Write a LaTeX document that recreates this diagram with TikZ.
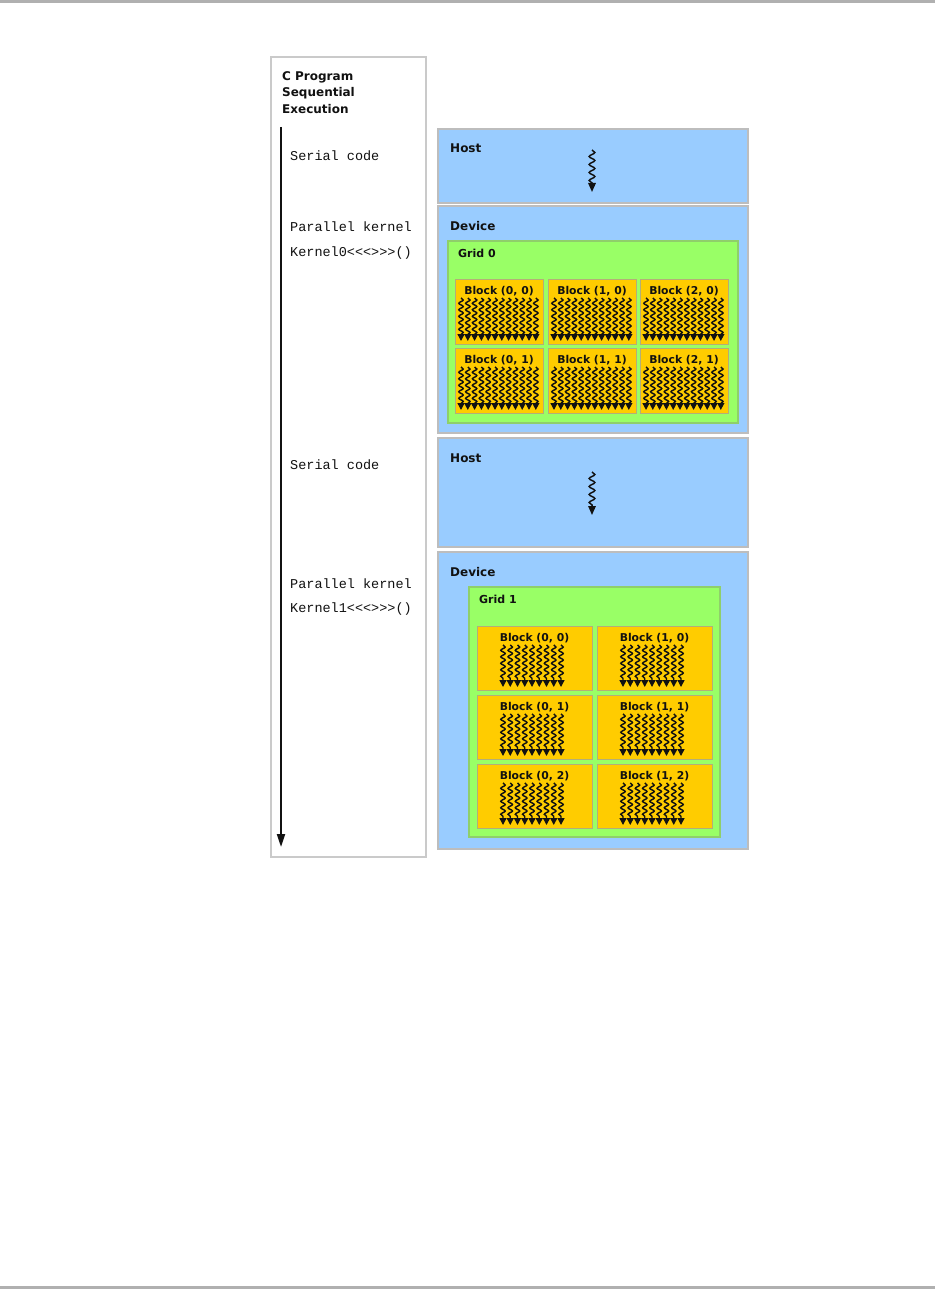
\documentclass[tikz,border=0pt]{standalone}
\usepackage{fontspec}
\setsansfont{DejaVu Sans}
\setmonofont{Liberation Mono}
\usetikzlibrary{decorations.pathmorphing,arrows.meta}
\definecolor{hostblue}{HTML}{99CCFF}
\definecolor{gridgreen}{HTML}{99FF66}
\definecolor{blockorange}{HTML}{FFCC00}
\definecolor{edgegray}{HTML}{BDBDBD}
\definecolor{bargray}{HTML}{B0B0B0}
\definecolor{blockedge}{HTML}{B4AE78}
\definecolor{gridedge}{HTML}{8FCF6A}
\definecolor{inkdark}{HTML}{111111}
\begin{document}
\begin{tikzpicture}[x=1pt,y=-1pt,
  panel/.style={draw=edgegray, line width=1.2pt, anchor=north west, inner sep=0pt, outer sep=0pt},
  hostbox/.style={panel, fill=hostblue, minimum width=310pt},
  gridbox/.style={panel, draw=gridedge, fill=gridgreen},
  blk/.style={panel, draw=blockedge, line width=1pt, fill=blockorange},
  hd/.style={font=\fontsize{12}{14}\sffamily\bfseries, text=inkdark, anchor=base west, inner sep=0pt},
  blabel/.style={font=\fontsize{10.8}{13}\sffamily\bfseries, text=inkdark, anchor=base, inner sep=0pt},
  code/.style={font=\fontsize{13.5}{16}\ttfamily, text=inkdark, anchor=base west, inner sep=0pt},
  thread/.style={draw=inkdark, line width=1.45pt, decorate,
     decoration={snake, amplitude=2.2pt, segment length=6.5pt, post length=6pt},
     -{Triangle[width=7pt,length=7pt]}},
  hostthread/.style={draw=inkdark, line width=1.5pt, decorate,
     decoration={snake, amplitude=2.8pt, segment length=8pt, post length=7pt},
     -{Triangle[width=7.5pt,length=9pt]}}
]
\useasboundingbox (0,0) rectangle (935,1289);
% page rules
\fill[bargray] (0,0) rectangle (935,3);
\fill[bargray] (0,1286) rectangle (935,1289);

% left column
\node[panel, draw=edgegray!80, fill=white, minimum width=155pt, minimum height=800pt] (prog) at (271,57) {};
\node[hd] (t1) at (282,81) {C Program};
\node[hd] (t2) at (282,97) {Sequential};
\node[hd] (t3) at (282,114) {Execution};
\coordinate (tstart) at (281,127);
\coordinate (tend) at (281,847);
\draw[draw=inkdark, line width=2pt, -{Triangle[width=8pt,length=13pt]}] (tstart) -- (tend);

\node[code] (c1) at (290,161) {Serial code};
\node[code] (c2) at (290,232) {Parallel kernel};
\node[code] (c3) at (290,256) {Kernel0<<<>>>()};
\node[code] (c4) at (290,469) {Serial code};
\node[code] (c5) at (290,588) {Parallel kernel};
\node[code] (c6) at (290,612) {Kernel1<<<>>>()};

% host 1
\node[hostbox, minimum height=74pt] (host1) at (438,129) {};
\node[hd] (host1l) at (450,153) {Host};
\coordinate (h1a) at (592,150);
\coordinate (h1b) at (592,192);
\draw[hostthread] (h1a) -- (h1b);

% device 1
\node[hostbox, minimum height=227pt] (dev1) at (438,206) {};
\node[hd] (dev1l) at (450,231) {Device};
\node[gridbox, minimum width=290pt, minimum height=182pt] (grid0) at (448,241) {};
\node[hd, font=\fontsize{11}{13}\sffamily\bfseries] (grid0l) at (458,258) {Grid 0};
\foreach \bx/\by/\c/\r in {455/279/0/0, 548/279/1/0, 640/279/2/0, 455/348/0/1, 548/348/1/1, 640/348/2/1} {
  \node[blk, minimum width=88pt, minimum height=65pt] (ga\c\r) at (\bx,\by) {};
  \node[blabel] (ga\c\r-l) at ([yshift=-15pt]ga\c\r.north) {Block (\c, \r)};
  \foreach \k in {0,...,11}
    \draw[thread] ([xshift={(6+6.8*\k)*1pt}, yshift=-19pt]ga\c\r.north west) -- ++(0,43);
}

% host 2
\node[hostbox, minimum height=109pt] (host2) at (438,438) {};
\node[hd] (host2l) at (450,462) {Host};
\coordinate (h2a) at (592,472);
\coordinate (h2b) at (592,515);
\draw[hostthread] (h2a) -- (h2b);

% device 2
\node[hostbox, minimum height=297pt] (dev2) at (438,552) {};
\node[hd] (dev2l) at (450,576) {Device};
\node[gridbox, minimum width=251pt, minimum height=250pt] (grid1) at (469,587) {};
\node[hd, font=\fontsize{11}{13}\sffamily\bfseries] (grid1l) at (479,603) {Grid 1};
\foreach \bx/\by/\c/\r in {477/626/0/0, 597/626/1/0, 477/695/0/1, 597/695/1/1, 477/764/0/2, 597/764/1/2} {
  \node[blk, minimum width=115pt, minimum height=64pt] (gb\c\r) at (\bx,\by) {};
  \node[blabel] (gb\c\r-l) at ([yshift=-15pt]gb\c\r.north) {Block (\c, \r)};
  \foreach \k in {0,...,8}
    \draw[thread] ([xshift={(26+7.25*\k)*1pt}, yshift=-19pt]gb\c\r.north west) -- ++(0,42);
}
\end{tikzpicture}
\end{document}
